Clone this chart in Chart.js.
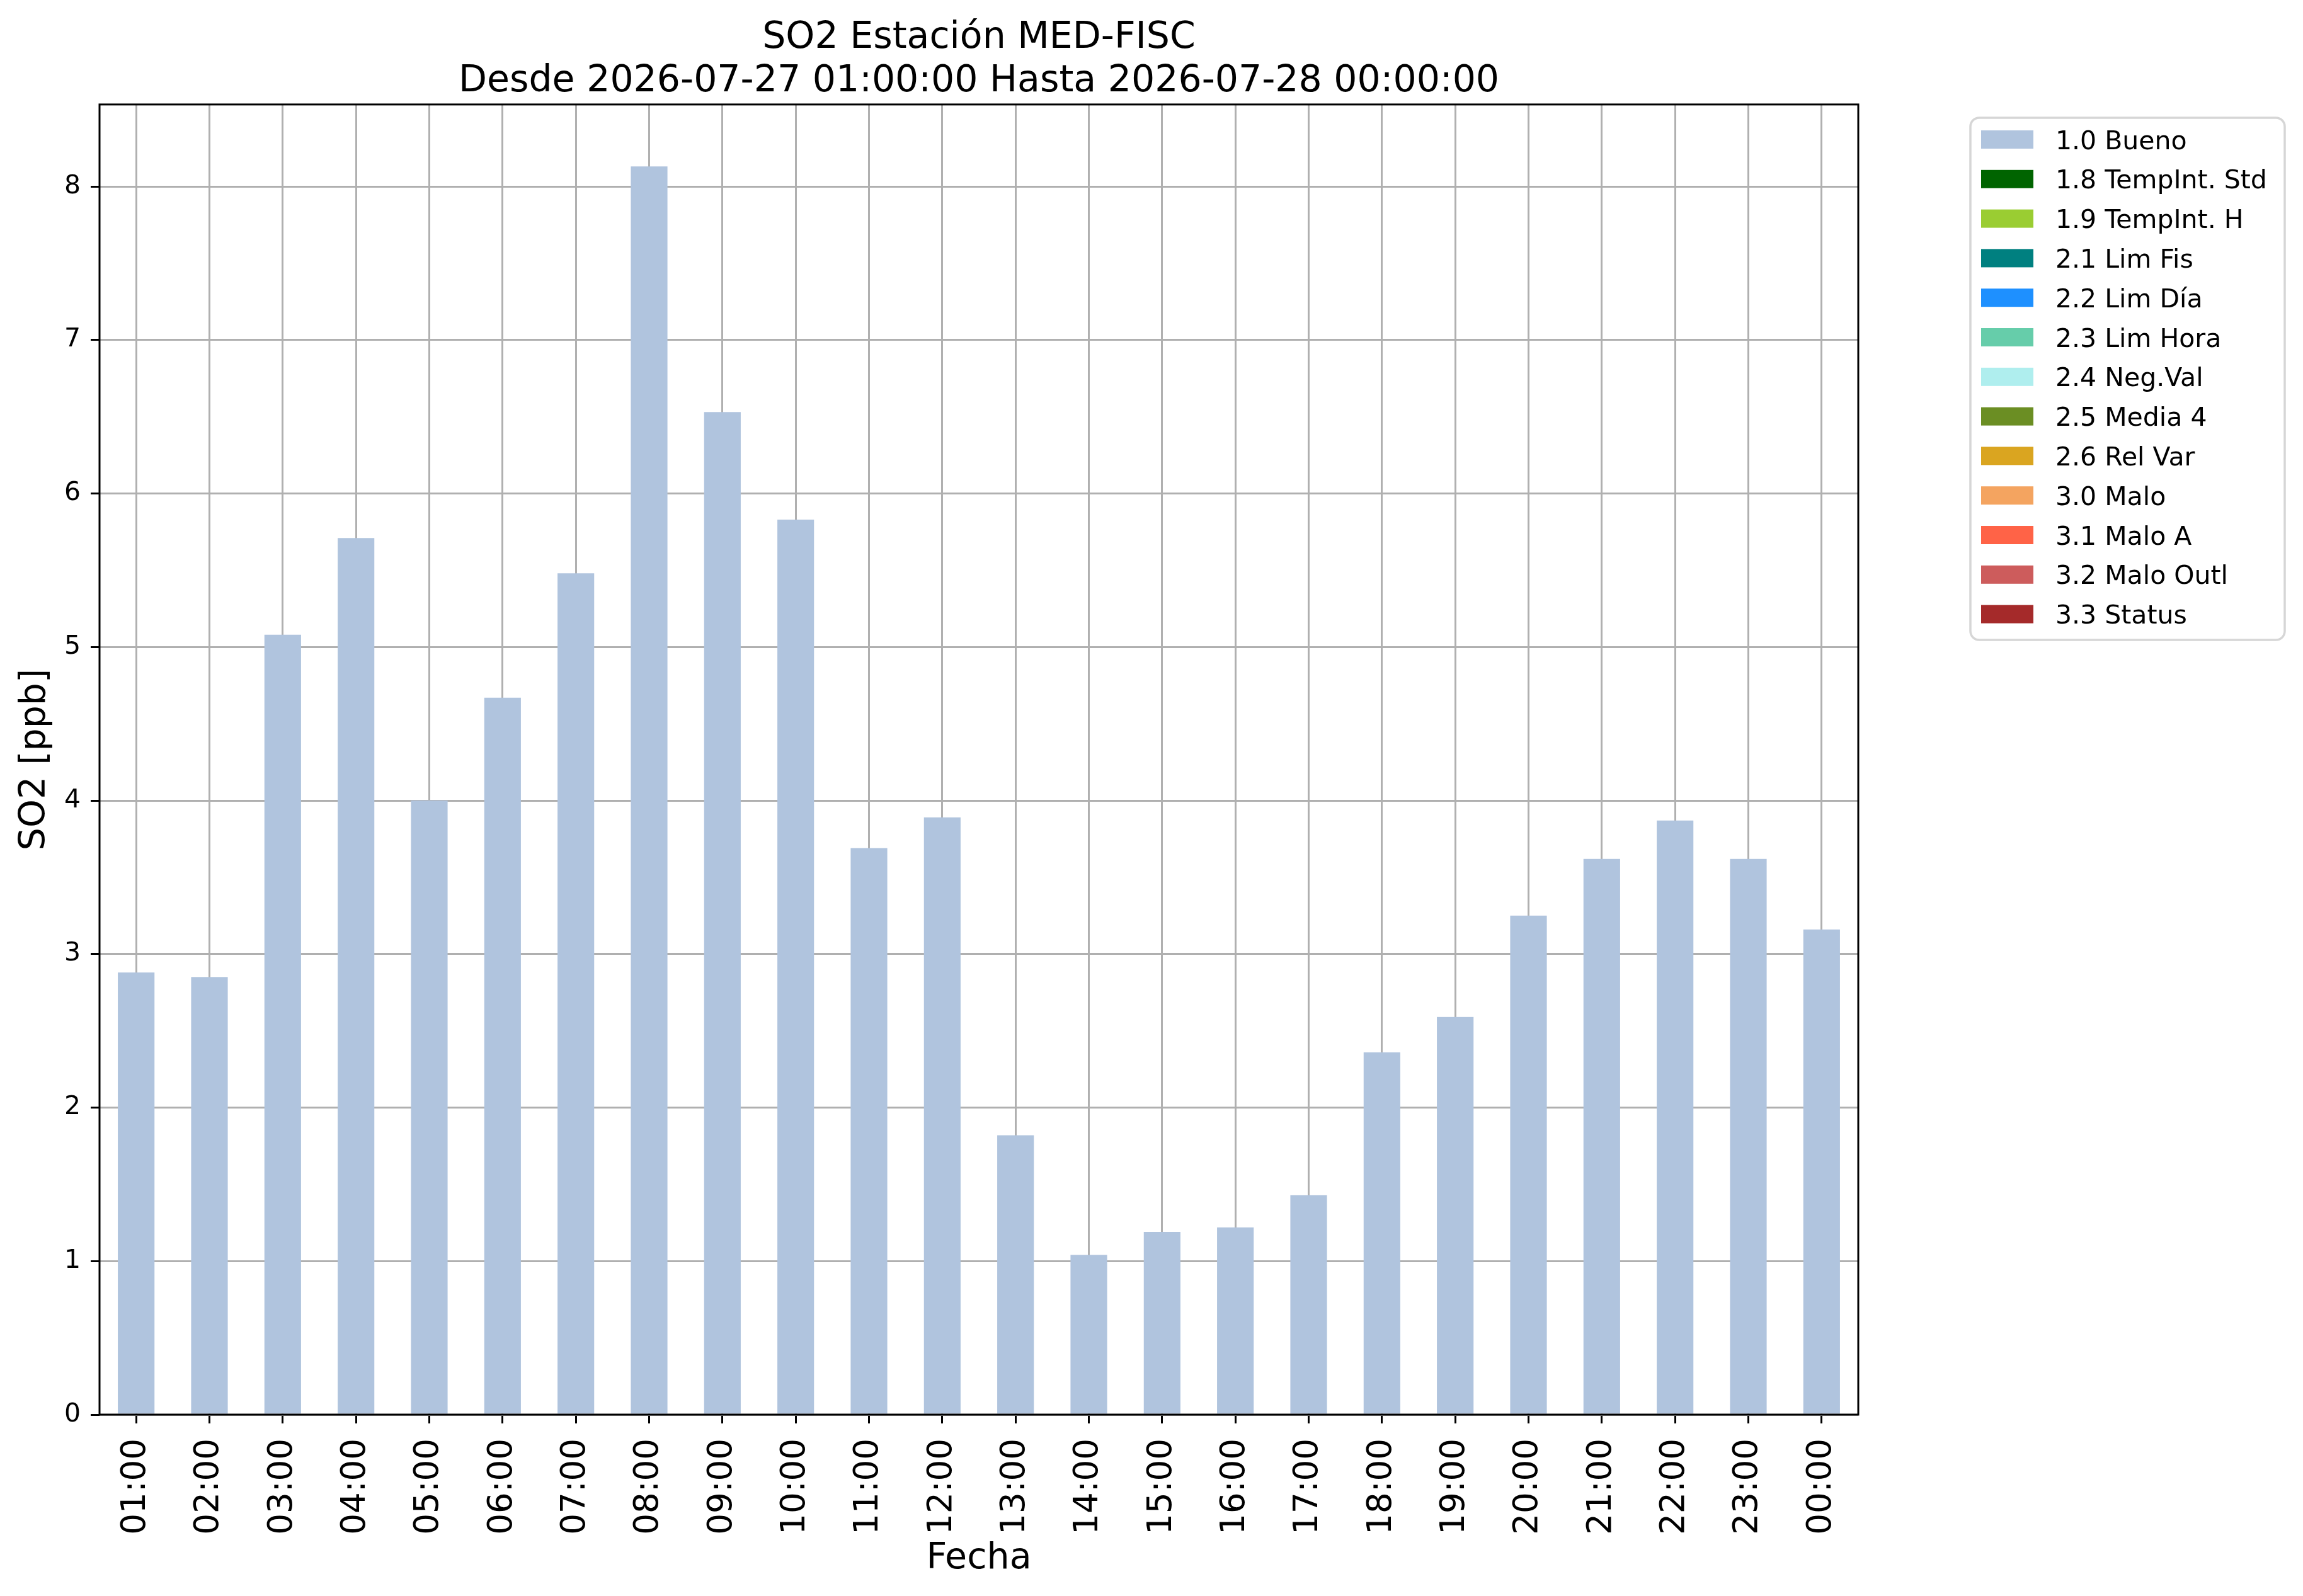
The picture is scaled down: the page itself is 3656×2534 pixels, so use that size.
<!DOCTYPE html>
<html>
<head>
<meta charset="utf-8">
<script src="https://cdn.jsdelivr.net/npm/chart.js@4.4.1/dist/chart.umd.min.js"></script>
<style>
  html, body { margin: 0; padding: 0; background: #fff; }
  #wrap { width: 3656px; height: 2534px; }
</style>
</head>
<body>
<div id="wrap"><canvas id="chart-so2" width="3656" height="2534"></canvas></div>
<script>
// ─── DATOS ────────────────────────────────────────────────────────────────────
const horas = ['01:00','02:00','03:00','04:00','05:00','06:00','07:00','08:00','09:00','10:00','11:00','12:00',
               '13:00','14:00','15:00','16:00','17:00','18:00','19:00','20:00','21:00','22:00','23:00','00:00'];
const so2Bueno = [2.88, 2.85, 5.08, 5.71, 4.00, 4.67, 5.48, 8.13, 6.53, 5.83, 3.69, 3.89,
                  1.82, 1.04, 1.19, 1.22, 1.43, 2.36, 2.59, 3.25, 3.62, 3.87, 3.62, 3.16];
const flagLabels = ['1.0 Bueno','1.8 TempInt. Std','1.9 TempInt. H','2.1 Lim Fis','2.2 Lim Día','2.3 Lim Hora',
                    '2.4 Neg.Val','2.5 Media 4','2.6 Rel Var','3.0 Malo','3.1 Malo A','3.2 Malo Outl','3.3 Status'];
const flagColors = ['#b0c4de','#006400','#9acd32','#008080','#1e90ff','#66cdaa',
                    '#afeeee','#6b8e23','#daa520','#f4a460','#ff6347','#cd5c5c','#a52a2a'];
const yTicks = [0, 1, 2, 3, 4, 5, 6, 7, 8];
const yMax = 8.534;
const titulo = ['SO2 Estación MED-FISC', 'Desde 2026-07-27 01:00:00 Hasta 2026-07-28 00:00:00'];

const FONT = "'DejaVu Sans', sans-serif";

// solo la serie "Bueno" tiene valores en este periodo
const datasets = flagLabels.map((lab, i) => ({
  label: lab,
  data: i === 0 ? so2Bueno : [],
  backgroundColor: flagColors[i],
  borderWidth: 0,
  barPercentage: 0.5,
  categoryPercentage: 1.0
}));

// marco de los ejes + leyenda estilo matplotlib a la derecha
const marcoLeyenda = {
  id: 'marcoLeyenda',
  afterDraw(chart) {
    const { ctx, chartArea: a } = chart;
    ctx.save();
    ctx.strokeStyle = '#000';
    ctx.lineWidth = 3;
    ctx.strokeRect(a.left, a.top, a.right - a.left, a.bottom - a.top);

    const bx = 3128, by = 187, bw = 499, bh = 829, r = 14;
    ctx.beginPath();
    ctx.roundRect(bx, by, bw, bh, r);
    ctx.fillStyle = 'rgba(255,255,255,0.8)';
    ctx.fill();
    ctx.strokeStyle = '#d6d6d6';
    ctx.lineWidth = 3.5;
    ctx.stroke();

    ctx.font = `41px ${FONT}`;
    ctx.textBaseline = 'alphabetic';
    ctx.textAlign = 'left';
    chart.data.datasets.forEach((ds, i) => {
      const cy = 221.5 + i * 62.8;
      ctx.fillStyle = ds.backgroundColor;
      ctx.fillRect(3145, cy - 14.5, 83, 29);
      ctx.fillStyle = '#000';
      ctx.fillText(ds.label, 3263, cy + 15);
    });
    ctx.restore();
  }
};

new Chart(document.getElementById('chart-so2'), {
  type: 'bar',
  data: { labels: horas, datasets },
  options: {
    responsive: false,
    animation: false,
    devicePixelRatio: 1,
    layout: { padding: { left: 0, right: 706, top: 0, bottom: 0 } },
    plugins: {
      legend: { display: false },
      tooltip: { enabled: false },
      title: {
        display: true, text: titulo, fullSize: false, color: '#000',
        font: { family: FONT, size: 58.5, weight: 'normal', lineHeight: 1.17 },
        padding: { top: 27, bottom: 2 }
      }
    },
    scales: {
      x: {
        stacked: true, offset: true, z: 1,
        afterFit: s => { s.height = 288; },
        grid: { offset: false, color: '#b0b0b0', lineWidth: 3, tickColor: '#000', tickWidth: 3, tickLength: 14 },
        border: { display: false },
        ticks: { autoSkip: false, minRotation: 90, maxRotation: 90, padding: 24, color: '#000',
                 font: { family: FONT, size: 53 } },
        title: { display: true, text: 'Fecha', color: '#000', padding: { top: 0, bottom: 25 },
                 font: { family: FONT, size: 57, lineHeight: 1.2 } }
      },
      y: {
        stacked: true, min: 0, max: yMax, z: 1,
        afterFit: s => { s.width = 158; },
        afterBuildTicks: s => { s.ticks = yTicks.map(v => ({ value: v })); },
        grid: { color: '#b0b0b0', lineWidth: 3, tickColor: '#000', tickWidth: 3, tickLength: 14 },
        border: { display: false },
        ticks: { padding: 16, color: '#000', font: { family: FONT, size: 41 } },
        title: { display: true, text: 'SO2 [ppb]', color: '#000', padding: { top: 22, bottom: 0 },
                 font: { family: FONT, size: 57, lineHeight: 1.2 } }
      }
    }
  },
  plugins: [marcoLeyenda]
});
</script>
</body>
</html>
